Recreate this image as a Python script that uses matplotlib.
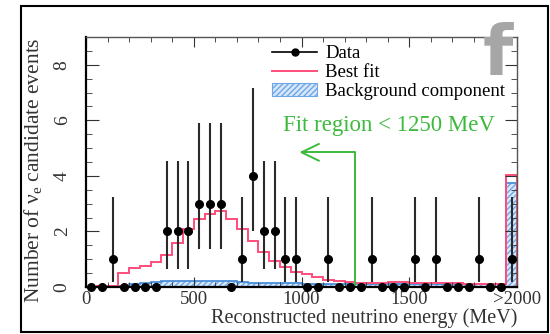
import numpy as np
import matplotlib
matplotlib.use("Agg")
import matplotlib.pyplot as plt
from matplotlib.lines import Line2D
from matplotlib.patches import Patch, Rectangle

plt.rcParams["font.family"] = ["Liberation Serif", "DejaVu Serif"]
plt.rcParams["mathtext.fontset"] = "custom"
plt.rcParams["mathtext.rm"] = "Liberation Serif"

# 50 MeV bins from 0 to 2000, last bin is the overflow (>2000)
edges = np.arange(0, 2001, 50)
centers = edges[:-1] + 25

data = [0, 0, 1, 0, 0, 0, 0, 2, 2, 2,
        3, 3, 3, 0, 1, 4, 2, 2, 1, 1,
        0, 0, 1, 0, 0, 0, 1, 0, 0, 0,
        1, 0, 1, 0, 0, 0, 1, 0, 0, 1]

best_fit = [0.0, 0.02, 0.05, 0.5, 0.68, 0.77, 0.9, 1.15, 1.6, 2.08,
            2.44, 2.62, 2.72, 2.44, 2.08, 1.67, 1.25, 0.92, 0.73, 0.55,
            0.46, 0.35, 0.27, 0.23, 0.19, 0.16, 0.14, 0.15, 0.17, 0.17,
            0.15, 0.15, 0.14, 0.13, 0.13, 0.12, 0.12, 0.11, 0.11, 4.03]

background = [0.0, 0.01, 0.02, 0.05, 0.1, 0.15, 0.19, 0.2, 0.2, 0.2,
              0.2, 0.2, 0.2, 0.2, 0.17, 0.16, 0.16, 0.15, 0.14, 0.13,
              0.12, 0.12, 0.11, 0.11, 0.11, 0.1, 0.1, 0.1, 0.1, 0.1,
              0.1, 0.1, 0.1, 0.1, 0.1, 0.1, 0.1, 0.1, 0.1, 3.75]

err_low = {1: 0.17, 2: 0.65, 3: 1.37, 4: 2.0}
err_high = {1: 3.25, 2: 4.55, 3: 5.9, 4: 7.15}

xticks = [0, 500, 1000, 1500, 2000]
xticklabels = ["0", "500", "1000", "1500", ">2000"]
yticks = [0, 2, 4, 6, 8]

fit_limit = 1250
arrow_y = 4.85
arrow_end = 1000

red = "#ff4d7a"
blue = "#4a8fd8"
green = "#3dba3d"

fig = plt.figure(figsize=(5.5, 3.34), dpi=100)
ax = fig.add_axes([0.1564, 0.1407, 0.7836, 0.7483])

# background component
ax.stairs(background, edges, fill=True, facecolor="#d6e8fa", edgecolor="#6fa6e6",
          hatch="//////", linewidth=0)
ax.stairs(background, edges, color=blue, linewidth=1.3)

# best fit
ax.stairs(best_fit, edges, color=red, linewidth=1.4)

# data with asymmetric errors
d = np.array(data)
nz = d > 0
lo = np.array([d[i] - err_low[d[i]] for i in range(len(d)) if nz[i]])
hi = np.array([err_high[d[i]] - d[i] for i in range(len(d)) if nz[i]])
ax.errorbar(centers[nz], d[nz], yerr=[lo, hi], fmt="none", ecolor="#2a2a2a",
            elinewidth=1.5, capsize=0)
ax.plot(centers, d, "o", color="black", markersize=5.5, linestyle="none", clip_on=False, zorder=5)

# fit region marker
ax.plot([fit_limit, fit_limit, arrow_end], [0, arrow_y, arrow_y], color=green, linewidth=1.4)
ax.plot([arrow_end + 80, arrow_end, arrow_end + 80], [arrow_y + 0.3, arrow_y, arrow_y - 0.3],
        color=green, linewidth=1.4)
ax.text(912, 5.8, "Fit region < 1250 MeV", color=green, fontsize=16.5, va="center", ha="left")

ax.set_xlim(0, 2000)
ax.set_ylim(0, 9)
ax.set_xticks(xticks)
ax.set_xticklabels(xticklabels)
ax.set_xticks(np.arange(0, 2001, 100), minor=True)
ax.set_yticks(yticks)
ax.set_yticks(np.arange(0, 9.01, 0.5), minor=True)
ax.tick_params(axis="both", which="both", direction="in", top=True, right=True, colors="#333333")
ax.tick_params(axis="x", which="major", length=7, labelsize=13.5, pad=3)
ax.tick_params(axis="x", which="minor", length=3.5)
ax.tick_params(axis="y", which="major", length=9, labelsize=14, pad=11, labelrotation=90)
ax.tick_params(axis="y", which="minor", length=4.5)
for lab in ax.get_yticklabels():
    lab.set_va("center")
for side in ["left", "bottom"]:
    ax.spines[side].set_linewidth(1.6)
for side in ["top", "right"]:
    ax.spines[side].set_linewidth(1.0)
    ax.spines[side].set_color("#555555")

ax.set_xlabel("Reconstructed neutrino energy (MeV)", fontsize=14.5, color="#333333", loc="right", labelpad=0)
ax.set_ylabel(r"Number of ν$_\mathrm{e}$ candidate events", fontsize=15.5, color="#333333", loc="top", labelpad=6)

handles = [
    Line2D([], [], color="black", marker="o", markersize=5, linewidth=1.2),
    Line2D([], [], color=red, linewidth=1.4),
    Patch(facecolor="#d6e8fa", edgecolor="#6fa6e6", hatch="//////", linewidth=0.8),
]
ax.legend(handles, ["Data", "Best fit", "Background component"], loc="upper left",
          bbox_to_anchor=(272 / 550, 1 - 45 / 334), bbox_transform=fig.transFigure,
          frameon=False, fontsize=13.5, handlelength=2.4, handletextpad=0.45,
          labelspacing=0.1, borderpad=0, borderaxespad=0)

# panel letter
fig.text(498 / 550, 1 - 75 / 334, "f", fontsize=50, fontweight="bold", color="#a6a6a6",
         family="DejaVu Sans", ha="center", va="baseline")

# outer frame
fig.patches.append(Rectangle((21 / 550, 2 / 334), 527 / 550, 326 / 334, transform=fig.transFigure,
                             fill=False, edgecolor="black", linewidth=1.5))

fig.savefig("out.png", dpi=100)
